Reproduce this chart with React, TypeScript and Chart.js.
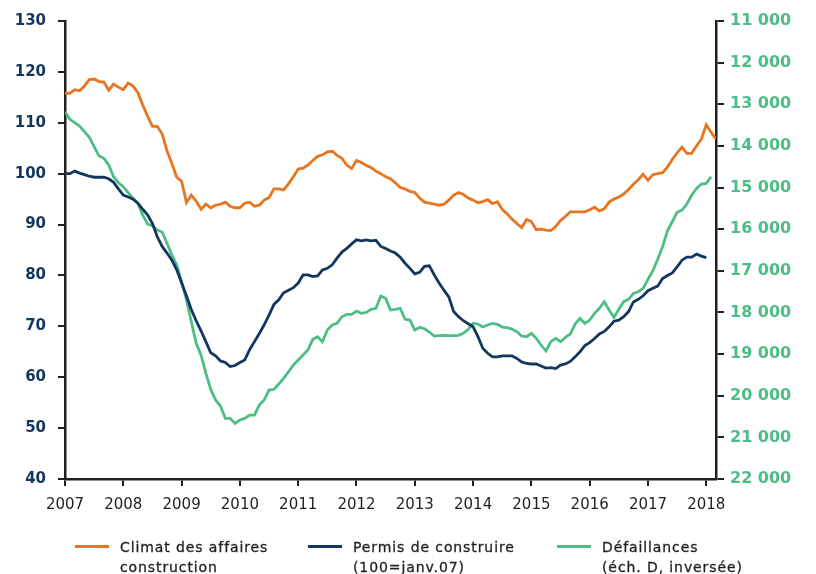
import React, { useEffect, useRef } from "react";
import { Chart, registerables } from "chart.js";

Chart.register(...registerables);

const START_YEAR = 2007;
const X_MAX = 2018 + 2 / 12;
const yearTicks = [2007, 2008, 2009, 2010, 2011, 2012, 2013, 2014, 2015, 2016, 2017, 2018];

// Climat des affaires construction (monthly, from Jan 2007)
const climat = [
  115.8, 115.8, 116.5, 116.3, 117.2, 118.5, 118.6, 118.1, 118.0, 116.4, 117.6, 117.0,
  116.5, 117.8, 117.2, 115.9, 113.5, 111.3, 109.3, 109.3, 107.8, 104.5, 102.0, 99.3,
  98.5, 94.3, 95.8, 94.6, 93.0, 94.0, 93.3, 93.8, 94.0, 94.4, 93.6, 93.3,
  93.3, 94.2, 94.4, 93.6, 93.8, 94.8, 95.3, 97.0, 97.0, 96.8, 98.0, 99.4,
  100.9, 101.1, 101.7, 102.6, 103.4, 103.7, 104.3, 104.4, 103.6, 103.0, 101.7, 101.0,
  102.6, 102.2, 101.6, 101.2, 100.5, 100.0, 99.4, 99.0, 98.2, 97.3, 97.0, 96.5,
  96.3, 95.2, 94.4, 94.2, 94.0, 93.8, 94.0, 94.8, 95.8, 96.3, 95.9, 95.2,
  94.8, 94.3, 94.5, 94.9, 94.1, 94.5, 93.0, 92.1, 91.1, 90.2, 89.4, 91.0,
  90.6, 89.0, 89.1, 88.9, 88.8, 89.6, 90.8, 91.6, 92.5, 92.5, 92.5, 92.5,
  92.9, 93.4, 92.7, 93.1, 94.4, 95.0, 95.4, 96.0, 96.9, 97.9, 98.8, 99.9,
  98.7, 99.8, 100.0, 100.2, 101.3, 102.8, 104.1, 105.2, 104.0, 104.0, 105.5, 106.8,
  109.6, 108.1, 106.8,
];

// Permis de construire (100 = janv.07)
const permis = [
  100.0, 100.0, 100.5, 100.1, 99.8, 99.5, 99.3, 99.3, 99.3, 99.0, 98.3, 97.0,
  95.8, 95.4, 95.0, 94.2, 93.0, 91.9, 90.2, 87.6, 85.7, 84.4, 83.0, 81.1,
  78.5, 76.0, 73.3, 71.1, 69.1, 67.0, 64.8, 64.2, 63.2, 62.9, 62.1, 62.3,
  62.9, 63.4, 65.4, 67.0, 68.6, 70.3, 72.2, 74.3, 75.2, 76.6, 77.1, 77.6,
  78.5, 80.1, 80.1, 79.8, 79.9, 81.1, 81.4, 82.1, 83.4, 84.6, 85.3, 86.2,
  87.0, 86.8, 87.0, 86.8, 86.9, 85.7, 85.3, 84.8, 84.4, 83.6, 82.4, 81.4,
  80.3, 80.6, 81.8, 81.9, 80.1, 78.5, 77.1, 75.8, 72.9, 71.9, 71.1, 70.5,
  69.9, 68.0, 65.7, 64.7, 64.0, 64.0, 64.2, 64.2, 64.2, 63.7, 63.0, 62.7,
  62.6, 62.6, 62.2, 61.8, 61.9, 61.7, 62.4, 62.6, 63.1, 64.0, 65.0, 66.2,
  66.8, 67.6, 68.5, 69.0, 69.9, 71.0, 71.2, 71.9, 72.9, 74.8, 75.3, 76.0,
  77.0, 77.5, 77.9, 79.4, 80.0, 80.5, 81.7, 83.0, 83.6, 83.6, 84.2, 83.8,
  83.5,
];

// Défaillances (right scale, inverted)
const defaillances = [
  13178, 13362, 13443, 13522, 13659, 13794, 14019, 14243, 14299, 14459, 14740, 14884,
  14980, 15124, 15259, 15379, 15660, 15876, 15917, 16020, 16068, 16340, 16621, 16861,
  17262, 17702, 18223, 18742, 19023, 19463, 19848, 20104, 20248, 20544, 20544, 20664,
  20584, 20544, 20464, 20464, 20224, 20104, 19864, 19848, 19719, 19583, 19424, 19263,
  19143, 19023, 18903, 18646, 18583, 18703, 18422, 18302, 18262, 18103, 18045, 18045,
  17966, 18022, 17998, 17925, 17901, 17606, 17662, 17942, 17925, 17901, 18165, 18182,
  18422, 18358, 18391, 18470, 18566, 18558, 18550, 18558, 18558, 18550, 18502, 18406,
  18262, 18278, 18350, 18302, 18262, 18286, 18350, 18366, 18398, 18462, 18566, 18582,
  18502, 18622, 18782, 18926, 18703, 18622, 18703, 18598, 18518, 18278, 18142, 18262,
  18182, 18022, 17901, 17742, 17942, 18118, 17925, 17742, 17686, 17542, 17502, 17422,
  17205, 16997, 16724, 16421, 16037, 15821, 15595, 15540, 15396, 15180, 15019, 14915,
  14899, 14740,
];

const ORANGE = "#e8741f";
const NAVY = "#13365f";
const GREEN = "#4dbd86";
const AXIS = "#231f20";

const legendItems = [
  { color: ORANGE, lines: ["Climat des affaires", "construction"], sx: 75, tx: 120 },
  { color: NAVY, lines: ["Permis de construire", "(100=janv.07)"], sx: 308, tx: 353 },
  { color: GREEN, lines: ["Défaillances", "(éch. D, inversée)"], sx: 557, tx: 602 },
];

const toPoints = (values: number[]) =>
  values.map((v, i) => ({ x: START_YEAR + i / 12, y: v }));

const FONT = "'DejaVu Sans', sans-serif";

export default function App() {
  const ref = useRef<HTMLCanvasElement | null>(null);

  useEffect(() => {
    if (!ref.current) return;
    const tickGrid = (len: number) => ({
      drawOnChartArea: false,
      drawTicks: true,
      tickLength: len,
      color: AXIS,
      lineWidth: 2,
    });
    const chart = new Chart(ref.current, {
      type: "line",
      data: {
        datasets: [
          {
            label: "Climat des affaires construction",
            data: toPoints(climat),
            borderColor: ORANGE,
            borderWidth: 2.8,
            pointRadius: 0,
            yAxisID: "y",
            tension: 0,
          },
          {
            label: "Permis de construire (100=janv.07)",
            data: toPoints(permis),
            borderColor: NAVY,
            borderWidth: 2.8,
            pointRadius: 0,
            yAxisID: "y",
            tension: 0,
          },
          {
            label: "Défaillances (éch. D, inversée)",
            data: toPoints(defaillances),
            borderColor: GREEN,
            borderWidth: 2.8,
            pointRadius: 0,
            yAxisID: "y1",
            tension: 0,
          },
        ],
      },
      options: {
        responsive: false,
        animation: false,
        layout: { padding: { top: 21, left: 0, right: 0, bottom: 0 } },
        plugins: { legend: { display: false }, tooltip: { enabled: false } },
        scales: {
          x: {
            type: "linear",
            min: START_YEAR,
            max: X_MAX,
            afterBuildTicks: (s: any) => {
              s.ticks = yearTicks.map((v) => ({ value: v }));
            },
            afterFit: (s: any) => {
              s.height = 95;
            },
            ticks: {
              autoSkip: false,
              maxRotation: 0,
              padding: 10,
              color: AXIS,
              font: { family: FONT, size: 15 },
              callback: (v: any) => String(v),
            },
            grid: tickGrid(7),
            border: { display: true, color: AXIS, width: 2.5 },
          },
          y: {
            position: "left",
            min: 40,
            max: 130,
            afterFit: (s: any) => {
              s.width = 65;
            },
            ticks: {
              stepSize: 10,
              padding: 12,
              color: NAVY,
              font: { family: FONT, size: 15, weight: "bold" },
            },
            grid: tickGrid(7),
            border: { display: true, color: AXIS, width: 2.5 },
          },
          y1: {
            position: "right",
            reverse: true,
            min: 11000,
            max: 22000,
            afterFit: (s: any) => {
              s.width = 100;
            },
            ticks: {
              stepSize: 1000,
              padding: 6,
              color: GREEN,
              font: { family: FONT, size: 16, weight: "bold" },
              callback: (v: any) => {
                const n = Number(v);
                const th = Math.floor(n / 1000);
                const rest = String(n % 1000).padStart(3, "0");
                return th + " " + rest;
              },
            },
            grid: tickGrid(8),
            border: { display: true, color: AXIS, width: 2.5 },
          },
        },
      },
    } as any);
    return () => chart.destroy();
  }, []);

  return (
    <div style={{ position: "absolute", left: 0, top: 0, width: 816, height: 574, background: "#fff" }}>
      <canvas ref={ref} width={816} height={574} style={{ display: "block" }} />
      {legendItems.map((it, i) => (
        <React.Fragment key={i}>
          <div
            style={{
              position: "absolute",
              left: it.sx,
              top: 545,
              width: it.tx - it.sx - 11,
              height: 3,
              background: it.color,
            }}
          />
          <div
            style={{
              position: "absolute",
              left: it.tx,
              top: 537,
              fontFamily: FONT,
              fontSize: 14,
              lineHeight: "20px",
              letterSpacing: "0.9px",
              color: AXIS,
              WebkitTextStroke: "0.3px " + AXIS,
              whiteSpace: "nowrap",
            }}
          >
            {it.lines.map((l, j) => (
              <div key={j}>{l}</div>
            ))}
          </div>
        </React.Fragment>
      ))}
    </div>
  );
}
